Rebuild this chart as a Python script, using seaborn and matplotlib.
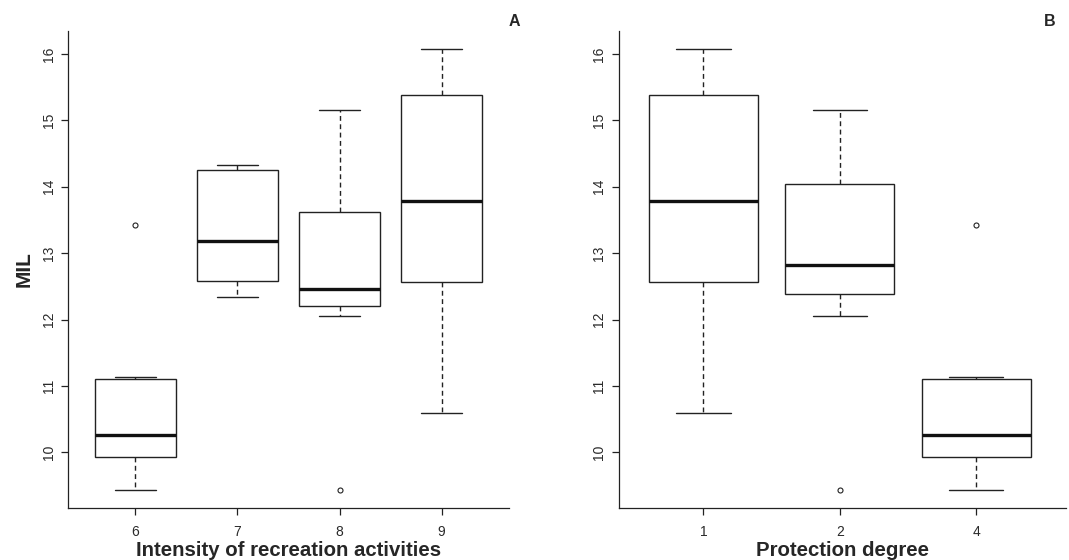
import pandas as pd
import matplotlib.pyplot as plt
import seaborn as sns

# Five-number summaries (whisker low, Q1, median, Q3, whisker high)
recreation_levels = ["6", "7", "8", "9"]
recreation_summary = {
    "6": [9.43, 9.93, 10.27, 11.10, 11.13],
    "7": [12.34, 12.58, 13.18, 14.26, 14.33],
    "8": [12.06, 12.20, 12.46, 13.62, 15.15],
    "9": [10.59, 12.56, 13.79, 15.38, 16.08],
}
recreation_outliers = {"6": [13.43], "8": [9.44]}

protection_levels = ["1", "2", "4"]
protection_summary = {
    "1": [10.59, 12.56, 13.79, 15.38, 16.08],
    "2": [12.06, 12.38, 12.82, 14.04, 15.15],
    "4": [9.43, 9.93, 10.27, 11.10, 11.13],
}
protection_outliers = {"2": [9.44], "4": [13.43]}

y_ticks = [10, 11, 12, 13, 14, 15, 16]


def long_table(summary, column):
    rows = [(k, v) for k, vals in summary.items() for v in vals]
    return pd.DataFrame(rows, columns=[column, "MIL"])


sns.set_style("ticks")
plt.rcParams["font.family"] = ["Liberation Sans", "DejaVu Sans"]

ink = "#222222"
fig = plt.figure(figsize=(10.69, 5.6), dpi=100)
ax_a = fig.add_axes([68 / 1069, 52 / 560, 441 / 1069, 477 / 560])
ax_b = fig.add_axes([619 / 1069, 52 / 560, 447 / 1069, 477 / 560])

panels = [
    (ax_a, recreation_summary, recreation_outliers, recreation_levels,
     "Intensity of recreation activities", (-0.66, 3.66)),
    (ax_b, protection_summary, protection_outliers, protection_levels,
     "Protection degree", (-0.62, 2.66)),
]

for ax, summary, outliers, order, xlabel, xlim in panels:
    df = long_table(summary, "grp")
    sns.boxplot(data=df, x="grp", y="MIL", order=order, ax=ax,
                whis=(0, 100), width=0.8, color="white", linecolor=ink,
                linewidth=1.0, showfliers=False,
                whiskerprops=dict(linestyle=(0, (3.5, 2.5))),
                medianprops=dict(linewidth=2.4, color="#111111"))
    out = pd.DataFrame([(k, v) for k, vals in outliers.items() for v in vals],
                       columns=["grp", "MIL"])
    sns.stripplot(data=out, x="grp", y="MIL", order=order, ax=ax,
                  jitter=False, color="white", edgecolor=ink, linewidth=0.8,
                  size=3.6, zorder=5)
    ax.set_xlim(*xlim)
    ax.set_ylim(9.164, 16.346)
    ax.set_yticks(y_ticks)
    ax.set_yticklabels([str(t) for t in y_ticks], rotation=90, va="center")
    ax.tick_params(axis="both", direction="out", length=5, width=0.9,
                   color=ink, labelcolor="#2a2a2a", labelsize=10)
    ax.tick_params(axis="x", pad=7)
    ax.tick_params(axis="y", pad=4)
    ax.set_xlabel(xlabel, fontsize=14.7, fontweight="bold", labelpad=1.5)
    ax.set_ylabel("")
    sns.despine(ax=ax)
    for side in ("left", "bottom"):
        ax.spines[side].set_linewidth(0.9)
        ax.spines[side].set_color(ink)

ax_a.set_ylabel("MIL", fontsize=15, fontweight="bold", labelpad=6)

fig.text(514 / 1069, 1 - 21 / 560, "A", fontsize=11.5, fontweight="bold",
         ha="center", va="center")
fig.text(1050 / 1069, 1 - 22 / 560, "B", fontsize=11.5, fontweight="bold",
         ha="center", va="center")

fig.savefig("out.png", dpi=100, facecolor="white")
